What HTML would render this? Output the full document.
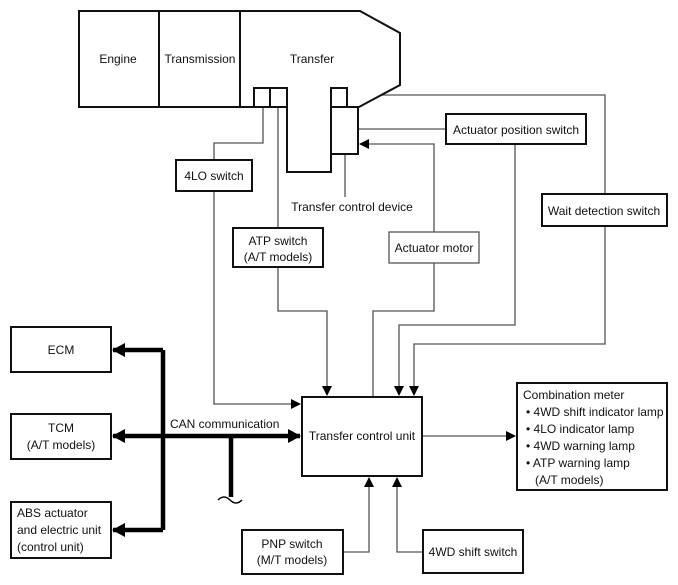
<!DOCTYPE html>
<html><head><style>body{margin:0;background:#fff}svg{display:block}text{font-family:"Liberation Sans",sans-serif;font-size:12px;fill:#111}</style></head><body>
<svg width="678" height="585" viewBox="0 0 678 585">
<defs><marker id="a" markerWidth="10" markerHeight="10" refX="9" refY="5" orient="auto" markerUnits="userSpaceOnUse"><path d="M0,0 L10,5 L0,10 Z" fill="#000"/></marker>
<marker id="b" markerWidth="14" markerHeight="14" refX="12" refY="7" orient="auto" markerUnits="userSpaceOnUse"><path d="M0,0 L13,7 L0,14 Z" fill="#000"/></marker></defs>
<g fill="none" stroke="#555" stroke-width="1.3">
<path d="M347,95 H605 V194"/><path d="M358,129 H446"/><path d="M345,154 V197"/>
<path d="M214,160 V143 H263 V107"/><path d="M278,107 V228"/>
<path d="M434,232 V144 H360" marker-end="url(#a)"/>
<path d="M214,191 V404 H300" marker-end="url(#a)"/>
<path d="M278,267 V311 H327 V395" marker-end="url(#a)"/>
<path d="M373,397 V311 H434 V263"/>
<path d="M515,144 V325 H399 V395" marker-end="url(#a)"/>
<path d="M605,226 V344 H414 V395" marker-end="url(#a)"/>
<path d="M343,552 H369 V478" marker-end="url(#a)"/>
<path d="M423,552 H397 V478" marker-end="url(#a)"/>
<path d="M422,436 H515" marker-end="url(#a)"/>
</g>
<g fill="#fff" stroke="#111" stroke-width="2">
<path d="M79,11 H360 L400,33 V85 L359,107 H331 V172 H287 V107 H79 Z"/>
<path d="M159,11 V107 M240,11 V107" fill="none"/>
<rect x="254" y="88" width="16" height="19"/><rect x="270" y="88" width="17" height="19"/>
<rect x="331" y="88" width="16" height="19"/><rect x="331" y="107" width="27" height="47"/>
<rect x="176" y="160" width="76" height="31"/>
<rect x="233" y="228" width="90" height="39"/>
<rect x="389" y="232" width="90" height="31" stroke="#555" stroke-width="1.3"/>
<rect x="446" y="114" width="140" height="30"/>
<rect x="542" y="194" width="125" height="32"/>
<rect x="11" y="327" width="100" height="45"/><rect x="11" y="414" width="100" height="45"/><rect x="11" y="502" width="100" height="56"/>
<rect x="302" y="397" width="120" height="79"/>
<rect x="517" y="383" width="150" height="107"/>
<rect x="242" y="530" width="101" height="44"/><rect x="423" y="530" width="100" height="43"/>
</g>
<g fill="none" stroke="#000" stroke-width="4.5">
<path d="M163,350 V530"/><path d="M163,350 H113" marker-end="url(#b)"/><path d="M163,530 H113" marker-end="url(#b)"/>
<path d="M163,436 H113" marker-end="url(#b)"/><path d="M163,436 H300" marker-end="url(#b)"/>
<path d="M231,436 V497"/></g>
<path d="M218,500 q6,-6 12,0 q6,6 12,0" fill="none" stroke="#000" stroke-width="1.5"/>
<text x="118" y="63" text-anchor="middle">Engine</text>
<text x="200" y="63" text-anchor="middle">Transmission</text>
<text x="312" y="63" text-anchor="middle">Transfer</text>
<text x="214" y="180" text-anchor="middle">4LO switch</text>
<text x="352" y="211" text-anchor="middle">Transfer control device</text>
<text x="278" y="245" text-anchor="middle">ATP switch</text><text x="278" y="261" text-anchor="middle">(A/T models)</text>
<text x="434" y="252" text-anchor="middle">Actuator motor</text>
<text x="516" y="134" text-anchor="middle">Actuator position switch</text>
<text x="604" y="215" text-anchor="middle">Wait detection switch</text>
<text x="61" y="354" text-anchor="middle">ECM</text>
<text x="61" y="432" text-anchor="middle">TCM</text><text x="61" y="449" text-anchor="middle">(A/T models)</text>
<text x="17" y="517">ABS actuator</text><text x="17" y="534">and electric unit</text><text x="17" y="551">(control unit)</text>
<text x="170" y="428">CAN communication</text>
<text x="362" y="440" text-anchor="middle">Transfer control unit</text>
<text x="523" y="399">Combination meter</text>
<text x="526" y="416">• 4WD shift indicator lamp</text>
<text x="526" y="433">• 4LO indicator lamp</text>
<text x="526" y="450">• 4WD warning lamp</text>
<text x="526" y="467">• ATP warning lamp</text>
<text x="535" y="484">(A/T models)</text>
<text x="292" y="548" text-anchor="middle">PNP switch</text><text x="292" y="564" text-anchor="middle">(M/T models)</text>
<text x="473" y="556" text-anchor="middle">4WD shift switch</text>
</svg></body></html>
